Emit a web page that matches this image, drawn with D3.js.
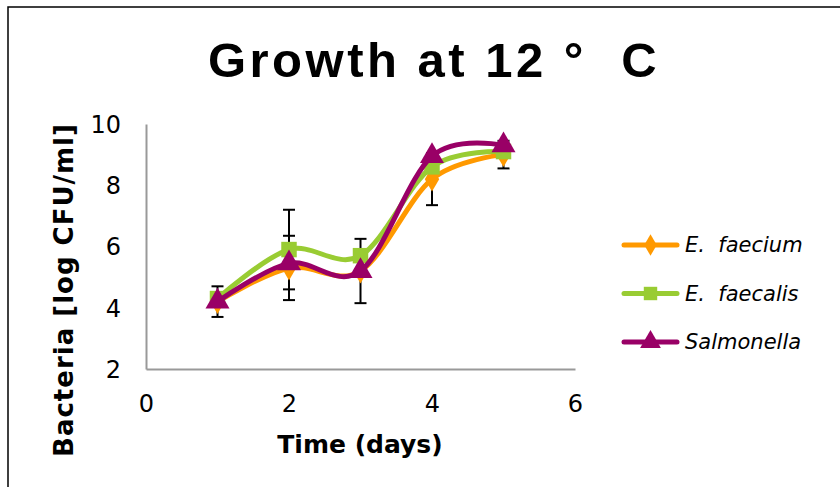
<!DOCTYPE html>
<html><head><meta charset="utf-8">
<script src="https://cdn.jsdelivr.net/npm/d3@7/dist/d3.min.js"></script>
<style>body{margin:0;background:#fff}svg{display:block}</style>
</head><body>
<svg id="c" width="840" height="487"></svg>
<script>
const days = [1, 2, 3, 4, 5];
const seriesNames = ["E. faecium", "E. faecalis", "Salmonella"];
const faecium = [4.2, 5.3, 5.2, 8.2, 9.0];
const faecalis = [4.3, 5.9, 5.7, 8.6, 9.1];
const salmonella = [4.2, 5.45, 5.2, 8.95, 9.3];
const faeciumErr = [0.5, 1.05, 1.05, 0.85, 0.45];
const faecalisErr = [0, 1.3, 0, 0, 0];
const salmonellaErr = [0, 0, 0, 0, 0];
const xTicks = [0, 2, 4, 6];
const yTicks = [2, 4, 6, 8, 10];

const colors = ["#FF9900", "#99CC33", "#990066"];
const markers = [d3.symbolDiamond, d3.symbolSquare, d3.symbolTriangle];
const markerSizes = [180, 240, 250];
const values = [faecium, faecalis, salmonella];
const errs = [faeciumErr, faecalisErr, salmonellaErr];

const svg = d3.select("#c");
svg.append("rect").attr("x", 8).attr("y", 7).attr("width", 900).attr("height", 600)
  .attr("fill", "none").attr("stroke", "#000").attr("stroke-width", 1.5);

const x = d3.scaleLinear().domain([0, 6]).range([146, 575]);
const y = d3.scaleLinear().domain([2, 10]).range([369, 124]);

svg.append("text").attr("x", 434).attr("y", 77).attr("text-anchor", "middle")
  .attr("font-family", "Liberation Sans, Arial, sans-serif").attr("font-weight", "bold")
  .attr("font-size", 49).attr("letter-spacing", 3.5).attr("xml:space", "preserve").text("Growth at 12 °  C");

const xAxis = svg.append("g").attr("transform", `translate(0,${y(2)})`)
  .call(d3.axisBottom(x).tickValues(xTicks).tickSize(0).tickPadding(26).tickFormat(d3.format("d")));
const yAxis = svg.append("g").attr("transform", `translate(${x(0)},0)`)
  .call(d3.axisLeft(y).tickValues(yTicks).tickSize(0).tickPadding(25).tickFormat(d3.format("d")));
[xAxis, yAxis].forEach(g => {
  g.select(".domain").attr("stroke", "#999").attr("stroke-width", 2);
  g.selectAll("text").attr("font-family", "DejaVu Sans, Verdana, sans-serif").attr("font-size", 24).attr("fill", "#000");
});
yAxis.selectAll("text").attr("dy", "0.35em");

svg.append("text").attr("x", 360).attr("y", 453).attr("text-anchor", "middle")
  .attr("font-family", "DejaVu Sans, Verdana, sans-serif").attr("font-weight", "bold")
  .attr("font-size", 25).text("Time (days)");
svg.append("text").attr("transform", "translate(73,290) rotate(-90)").attr("text-anchor", "middle")
  .attr("font-family", "DejaVu Sans, Verdana, sans-serif").attr("font-weight", "bold")
  .attr("font-size", 26).attr("letter-spacing", 1).text("Bacteria [log CFU/ml]");

const line = d3.line().x((d, i) => x(days[i])).y(d => y(d)).curve(d3.curveCardinal.tension(0));

values.forEach((vals, s) => {
  const g = svg.append("g");
  vals.forEach((v, i) => {
    const e = errs[s][i];
    if (!e) return;
    const cx = x(days[i]);
    g.append("line").attr("x1", cx).attr("x2", cx).attr("y1", y(v - e)).attr("y2", y(v + e))
      .attr("stroke", "#000").attr("stroke-width", 2);
    [v - e, v + e].forEach(t => g.append("line").attr("x1", cx - 6).attr("x2", cx + 6)
      .attr("y1", y(t)).attr("y2", y(t)).attr("stroke", "#000").attr("stroke-width", 2));
  });
});
values.forEach((vals, s) => {
  const g = svg.append("g");
  g.append("path").attr("d", line(vals)).attr("fill", "none").attr("stroke", colors[s])
    .attr("stroke-width", 5).attr("stroke-linecap", "round");
  vals.forEach((v, i) => {
    g.append("path").attr("d", d3.symbol().type(markers[s]).size(markerSizes[s])())
      .attr("transform", `translate(${x(days[i])},${y(v)})`).attr("fill", colors[s]);
  });
});

seriesNames.forEach((n, s) => {
  const ly = 245 + s * 48.5;
  const g = svg.append("g");
  g.append("line").attr("x1", 624).attr("x2", 677).attr("y1", ly).attr("y2", ly)
    .attr("stroke", colors[s]).attr("stroke-width", 5).attr("stroke-linecap", "round");
  g.append("path").attr("d", d3.symbol().type(markers[s]).size(markerSizes[s] * 0.75)())
    .attr("transform", `translate(650.5,${ly})`).attr("fill", colors[s]);
  g.append("text").attr("x", 685).attr("y", ly).attr("dy", "0.35em")
    .attr("font-family", "DejaVu Sans, Verdana, sans-serif").attr("font-style", "italic")
    .attr("font-size", 21).attr("xml:space", "preserve").text(n.replace(". ", ".  "));
});
</script>
</body></html>
